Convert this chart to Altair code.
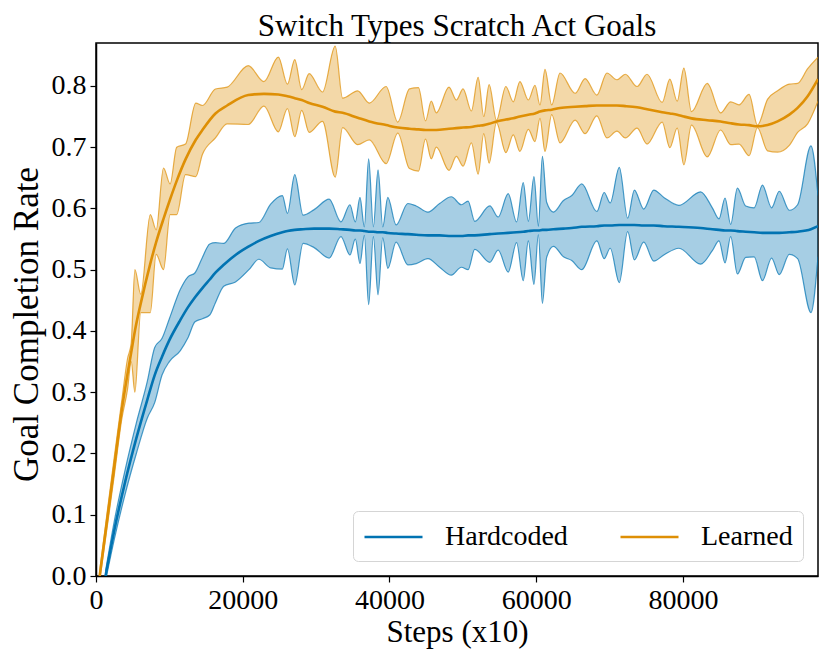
import altair as alt
import pandas as pd

# ---------------- data ----------------
series_names = ["Hardcoded", "Learned"]
series_colors = ["#0173b2", "#de8f05"]
x_ticks = [0, 20000, 40000, 60000, 80000]
y_ticks = [0.0, 0.1, 0.2, 0.3, 0.4, 0.5, 0.6, 0.7, 0.8]

hard_steps = [1300, 2500, 4000, 5500, 7000, 8000, 9000, 10000, 11500, 12500,
              13500, 14500, 15500, 16280, 17410, 19015, 20840, 22200, 23800, 25400,
              26090, 27090, 28220, 29730, 31780, 33380, 34610, 35340, 35980, 36570,
              37160, 37800, 38440, 39080, 39770, 40900, 42500, 43640, 45240, 46830,
              48430, 49800, 50710, 51620, 53670, 54810, 56180, 57320, 58230, 58920,
              59690, 60290, 60840, 61420, 62340, 63710, 64840, 66210, 68260, 69260,
              70080, 71320, 72460, 73370, 74650, 76020, 77390, 79440, 82400, 84000,
              84910, 85730, 86500, 87410, 88550, 89700, 90830, 92070, 93120, 94490,
              95620, 97440, 98400]
hard_mean = [0.000, 0.075, 0.155, 0.225, 0.288, 0.328, 0.358, 0.385, 0.418, 0.438,
             0.455, 0.470, 0.484, 0.495, 0.508, 0.524, 0.538, 0.547, 0.555, 0.561,
             0.563, 0.565, 0.566, 0.567, 0.567, 0.566, 0.565, 0.564, 0.564, 0.563,
             0.562, 0.562, 0.561, 0.561, 0.560, 0.559, 0.558, 0.557, 0.556, 0.556,
             0.555, 0.555, 0.556, 0.556, 0.558, 0.559, 0.560, 0.561, 0.562, 0.563,
             0.564, 0.564, 0.565, 0.565, 0.566, 0.567, 0.568, 0.570, 0.571, 0.572,
             0.572, 0.573, 0.573, 0.573, 0.572, 0.572, 0.571, 0.570, 0.568, 0.566,
             0.565, 0.564, 0.564, 0.563, 0.562, 0.561, 0.560, 0.560, 0.560, 0.561,
             0.562, 0.566, 0.571]
hard_std = [0.008, 0.015, 0.020, 0.025, 0.030, 0.045, 0.030, 0.035, 0.050, 0.050,
            0.040, 0.050, 0.058, 0.049, 0.035, 0.044, 0.038, 0.030, 0.052, 0.060,
            0.029, 0.090, 0.023, 0.031, 0.048, 0.012, 0.041, 0.014, 0.054, 0.007,
            0.119, 0.008, 0.102, 0.009, 0.058, 0.014, 0.050, 0.047, 0.038, 0.052,
            0.064, 0.051, 0.056, 0.023, 0.046, 0.027, 0.064, 0.017, 0.080, 0.016,
            0.088, 0.007, 0.120, 0.045, 0.028, 0.046, 0.053, 0.070, 0.024, 0.054,
            0.037, 0.094, 0.011, 0.057, 0.027, 0.058, 0.047, 0.035, 0.059, 0.035,
            0.018, 0.053, 0.010, 0.070, 0.042, 0.040, 0.078, 0.041, 0.068, 0.036,
            0.044, 0.136, 0.050]

learn_steps = [500, 1500, 2500, 3500, 4300, 4800, 5300, 6100, 7400, 8200,
               9200, 10100, 11000, 12200, 13600, 14500, 16280, 17870, 20750, 22890,
               24850, 26090, 27090, 28040, 29050, 30870, 32600, 33610, 35660, 37250,
               39540, 41130, 42720, 43950, 44910, 45690, 46380, 48110, 49110, 50030,
               51160, 52080, 52850, 53580, 54580, 55860, 56870, 57770, 58920, 59830,
               60510, 61190, 62110, 63240, 65300, 66660, 68260, 69630, 71000, 72140,
               73740, 75100, 77160, 78210, 79210, 80120, 81160, 83310, 85130, 86500,
               87640, 89010, 90150, 91520, 92890, 94490, 95620, 96990, 98400]
learn_mean = [0.000, 0.090, 0.180, 0.270, 0.330, 0.365, 0.400, 0.445, 0.510, 0.545,
              0.583, 0.615, 0.645, 0.680, 0.712, 0.728, 0.755, 0.768, 0.785, 0.787,
              0.786, 0.783, 0.780, 0.777, 0.772, 0.766, 0.758, 0.756, 0.748, 0.742,
              0.736, 0.732, 0.730, 0.729, 0.728, 0.728, 0.728, 0.730, 0.731, 0.732,
              0.733, 0.735, 0.736, 0.738, 0.742, 0.745, 0.747, 0.750, 0.753, 0.755,
              0.758, 0.760, 0.761, 0.764, 0.766, 0.767, 0.768, 0.768, 0.768, 0.767,
              0.765, 0.762, 0.757, 0.755, 0.753, 0.750, 0.747, 0.744, 0.742, 0.739,
              0.737, 0.736, 0.734, 0.736, 0.742, 0.753, 0.764, 0.783, 0.811]
learn_std = [0.008, 0.012, 0.015, 0.015, 0.025, 0.015, 0.100, 0.015, 0.080, 0.020,
             0.083, 0.025, 0.055, 0.025, 0.060, 0.040, 0.040, 0.030, 0.048, 0.020,
             0.061, 0.020, 0.063, 0.017, 0.048, 0.024, 0.107, 0.024, 0.044, 0.030,
             0.063, 0.009, 0.065, 0.068, 0.015, 0.047, 0.028, 0.068, 0.046, 0.063,
             0.026, 0.079, 0.014, 0.064, 0.002, 0.054, 0.027, 0.057, 0.024, 0.046,
             0.011, 0.067, 0.008, 0.057, 0.022, 0.045, 0.017, 0.053, 0.042, 0.052,
             0.034, 0.057, 0.016, 0.056, 0.022, 0.079, 0.011, 0.060, 0.014, 0.035,
             0.032, 0.050, 0.002, 0.042, 0.050, 0.050, 0.040, 0.045, 0.036]


def frame(name, steps, mean, std):
    df = pd.DataFrame({"step": steps, "mean": mean, "std": std})
    df["lo"] = df["mean"] - df["std"]
    df["hi"] = df["mean"] + df["std"]
    df["series"] = name
    return df


frames = [frame(series_names[0], hard_steps, hard_mean, hard_std),
          frame(series_names[1], learn_steps, learn_mean, learn_std)]

FONT = "Liberation Serif"
x_scale = alt.Scale(domain=[0, 98400], nice=False, zero=False)
y_scale = alt.Scale(domain=[0, 0.87], nice=False, zero=False)

x_axis = alt.Axis(values=x_ticks, format="d", title="Steps (x10)", grid=False,
                  labelFontSize=28, titleFontSize=31, labelFont=FONT, titleFont=FONT,
                  labelColor="black", titleColor="black", titleFontWeight="normal",
                  tickSize=6, tickWidth=1.2, tickColor="black", domainColor="black",
                  domainWidth=1.5, labelPadding=4, titlePadding=3,
                  labelFlush=False, labelOverlap=False)
y_axis = alt.Axis(values=y_ticks, format=".1f", title="Goal Completion Rate", grid=False,
                  labelFontSize=28, titleFontSize=35, labelFont=FONT, titleFont=FONT,
                  labelColor="black", titleColor="black", titleFontWeight="normal",
                  tickSize=6, tickWidth=1.2, tickColor="black", domainColor="black",
                  domainWidth=1.5, labelPadding=4, titlePadding=7, titleY=281,
                  labelFlush=False, labelOverlap=False)

layers = []
for i, df in enumerate(frames):
    col = series_colors[i]
    base = alt.Chart(df)
    band = base.mark_area(interpolate="monotone", opacity=0.35, color=col, clip=True).encode(
        x=alt.X("step:Q", scale=x_scale, axis=x_axis),
        y=alt.Y("lo:Q", scale=y_scale, axis=y_axis),
        y2="hi:Q",
    )
    upper = base.mark_line(interpolate="monotone", opacity=0.7, strokeWidth=1.2,
                           color=col, clip=True).encode(
        x=alt.X("step:Q", scale=x_scale),
        y=alt.Y("hi:Q", scale=y_scale),
    )
    lower = base.mark_line(interpolate="monotone", opacity=0.7, strokeWidth=1.2,
                           color=col, clip=True).encode(
        x=alt.X("step:Q", scale=x_scale),
        y=alt.Y("lo:Q", scale=y_scale),
    )
    layers += [band, upper, lower]

mean_df = pd.concat(frames, ignore_index=True)
mean_lines = alt.Chart(mean_df).mark_line(interpolate="monotone", strokeWidth=2.6, clip=True).encode(
    x=alt.X("step:Q", scale=x_scale),
    y=alt.Y("mean:Q", scale=y_scale),
    color=alt.Color("series:N",
                    scale=alt.Scale(domain=series_names, range=series_colors),
                    legend=alt.Legend(title=None, orient="none", legendX=257, legendY=468,
                                      direction="horizontal",
                                      columns=2, symbolType="M-1,0L3,0", symbolSize=841,
                                      symbolStrokeWidth=2.5, labelFontSize=28, labelFont=FONT,
                                      labelColor="black", labelOffset=50, columnPadding=47,
                                      padding=10, strokeColor="#d5d5d5", fillColor="white",
                                      cornerRadius=5, labelLimit=0)),
)
layers.append(mean_lines)

chart = alt.layer(*layers).properties(
    width=722,
    height=533,
    title=alt.TitleParams("Switch Types Scratch Act Goals", fontSize=31, font=FONT,
                          fontWeight="normal", color="black", offset=0, anchor="middle"),
    autosize=alt.AutoSizeParams(type="none"),
    padding={"left": 88, "top": 35, "right": 4, "bottom": 80},
).configure(font=FONT).configure_view(stroke="black", strokeWidth=1.5)

chart.save("out.html", embed_options={"renderer": "svg", "actions": False})
